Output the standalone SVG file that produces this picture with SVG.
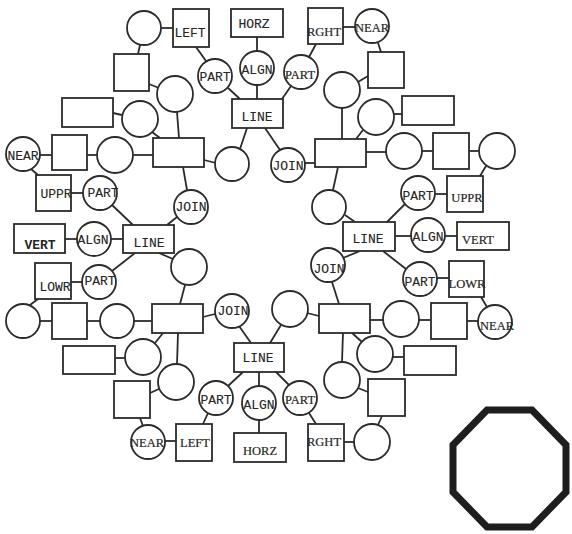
<svg xmlns="http://www.w3.org/2000/svg" width="572" height="534" viewBox="0 0 572 534">
  <style>
    .n { fill: #fff; stroke: #2b2b2b; stroke-width: 1.8; }
    .k line { stroke: #2b2b2b; stroke-width: 1.8; }
    text { fill: #262626; stroke: #262626; stroke-width: 0.12; text-anchor: middle; }
    .t { font-family: "Liberation Mono", "DejaVu Sans Mono", monospace; font-size: 13px; }
    .s { font-family: "Liberation Serif", "DejaVu Serif", serif; font-size: 12.5px; stroke-width: 0.2; }
    .b { font-weight: bold; stroke-width: 0; }
  </style>
  <rect width="572" height="534" fill="#fff"/>

  <!-- connectors -->
  <g id="connectors" class="k">
    <line x1="161" y1="28" x2="173" y2="28"/>
    <line x1="196" y1="47" x2="206" y2="61"/>
    <line x1="257" y1="37" x2="257" y2="51"/>
    <line x1="228" y1="88" x2="240" y2="99"/>
    <line x1="257" y1="85" x2="257" y2="99"/>
    <line x1="291" y1="86" x2="282" y2="99"/>
    <line x1="316" y1="44" x2="309" y2="57"/>
    <line x1="343" y1="27" x2="355" y2="27"/>
    <line x1="247" y1="128" x2="240" y2="149"/>
    <line x1="265" y1="128" x2="280" y2="150"/>
    <line x1="140" y1="45" x2="138" y2="54"/>
    <line x1="149" y1="84" x2="159" y2="88"/>
    <line x1="113" y1="113" x2="122" y2="115"/>
    <line x1="177" y1="112" x2="179" y2="138"/>
    <line x1="152" y1="132" x2="160" y2="138"/>
    <line x1="133" y1="155" x2="153" y2="155"/>
    <line x1="87" y1="155" x2="97" y2="155"/>
    <line x1="40" y1="155" x2="52" y2="155"/>
    <line x1="204" y1="160" x2="216" y2="163"/>
    <line x1="31" y1="169" x2="38" y2="175"/>
    <line x1="183" y1="167" x2="187" y2="190"/>
    <line x1="71" y1="193" x2="83" y2="193"/>
    <line x1="112" y1="205" x2="133" y2="225"/>
    <line x1="177" y1="217" x2="167" y2="225"/>
    <line x1="65" y1="239" x2="77" y2="239"/>
    <line x1="111" y1="239" x2="123" y2="239"/>
    <line x1="135" y1="253" x2="112" y2="271"/>
    <line x1="71" y1="282" x2="82" y2="282"/>
    <line x1="159" y1="253" x2="173" y2="259"/>
    <line x1="185" y1="285" x2="180" y2="304"/>
    <line x1="30" y1="305" x2="38" y2="299"/>
    <line x1="40" y1="321" x2="52" y2="321"/>
    <line x1="87" y1="321" x2="100" y2="321"/>
    <line x1="134" y1="321" x2="152" y2="321"/>
    <line x1="203" y1="317" x2="215" y2="314"/>
    <line x1="163" y1="333" x2="155" y2="343"/>
    <line x1="115" y1="358" x2="125" y2="358"/>
    <line x1="178" y1="333" x2="177" y2="364"/>
    <line x1="159" y1="389" x2="150" y2="393"/>
    <line x1="140" y1="418" x2="143" y2="426"/>
    <line x1="165" y1="441" x2="176" y2="441"/>
    <line x1="208" y1="413" x2="203" y2="424"/>
    <line x1="243" y1="372" x2="228" y2="386"/>
    <line x1="259" y1="372" x2="259" y2="386"/>
    <line x1="276" y1="372" x2="289" y2="385"/>
    <line x1="259" y1="420" x2="259" y2="433"/>
    <line x1="239" y1="326" x2="251" y2="343"/>
    <line x1="281" y1="325" x2="270" y2="343"/>
    <line x1="307" y1="313" x2="319" y2="316"/>
    <line x1="309" y1="413" x2="316" y2="424"/>
    <line x1="344" y1="442" x2="354" y2="442"/>
    <line x1="382" y1="416" x2="378" y2="425"/>
    <line x1="358" y1="388" x2="368" y2="392"/>
    <line x1="343" y1="333" x2="342" y2="362"/>
    <line x1="352" y1="333" x2="362" y2="342"/>
    <line x1="393" y1="357" x2="404" y2="357"/>
    <line x1="370" y1="320" x2="383" y2="320"/>
    <line x1="419" y1="320" x2="431" y2="320"/>
    <line x1="467" y1="321" x2="478" y2="321"/>
    <line x1="481" y1="297" x2="487" y2="307"/>
    <line x1="332" y1="282" x2="339" y2="304"/>
    <line x1="360" y1="251" x2="343" y2="258"/>
    <line x1="383" y1="251" x2="406" y2="269"/>
    <line x1="437" y1="278" x2="449" y2="278"/>
    <line x1="395" y1="236" x2="411" y2="236"/>
    <line x1="445" y1="236" x2="457" y2="236"/>
    <line x1="387" y1="222" x2="405" y2="204"/>
    <line x1="435" y1="194" x2="447" y2="194"/>
    <line x1="486" y1="166" x2="480" y2="176"/>
    <line x1="345" y1="215" x2="355" y2="222"/>
    <line x1="338" y1="167" x2="333" y2="190"/>
    <line x1="305" y1="163" x2="315" y2="163"/>
    <line x1="366" y1="152" x2="386" y2="152"/>
    <line x1="422" y1="151" x2="433" y2="151"/>
    <line x1="469" y1="151" x2="479" y2="151"/>
    <line x1="342" y1="108" x2="342" y2="139"/>
    <line x1="363" y1="130" x2="356" y2="139"/>
    <line x1="394" y1="114" x2="402" y2="114"/>
    <line x1="368" y1="76" x2="358" y2="82"/>
    <line x1="378" y1="43" x2="381" y2="52"/>
  </g>

  <!-- north cluster -->
  <g id="c1"><circle class="n" cx="144" cy="28" r="17"/></g>
  <g id="left-top"><rect class="n" x="173" y="9" width="36" height="38"/><text class="t" x="190" y="37">LEFT</text></g>
  <g id="horz-top"><rect class="n" x="231" y="9" width="52" height="28"/><text class="t" x="254" y="28">HORZ</text></g>
  <g id="algn-top"><circle class="n" cx="257" cy="68" r="17"/><text class="t" x="257" y="74">ALGN</text></g>
  <g id="part-top-left"><circle class="n" cx="215" cy="76" r="17"/><text class="t" x="215" y="81">PART</text></g>
  <g id="line-top"><rect class="n" x="232" y="99" width="51" height="29"/><text class="t" x="257" y="121">LINE</text></g>
  <g id="part-top-right"><circle class="n" cx="301" cy="72" r="17"/><text class="s" x="300" y="79">PART</text></g>
  <g id="rght-top"><rect class="n" x="308" y="8" width="35" height="36"/><text class="s" x="324" y="36">RGHT</text></g>
  <g id="near-top-right"><circle class="n" cx="372" cy="26" r="17"/><text class="s" x="372" y="32">NEAR</text></g>
  <g id="join-top"><circle class="n" cx="288" cy="165" r="17"/><text class="t" x="288" y="170">JOIN</text></g>
  <g id="c-top-mid"><circle class="n" cx="232" cy="164" r="17"/></g>

  <!-- north-west cluster -->
  <g id="sq1"><rect class="n" x="114" y="54" width="35" height="37"/></g>
  <g id="c2"><circle class="n" cx="175" cy="94" r="18"/></g>
  <g id="wr1"><rect class="n" x="62" y="98" width="51" height="29"/></g>
  <g id="c3"><circle class="n" cx="140" cy="119" r="18"/></g>
  <g id="box-nw"><rect class="n" x="153" y="138" width="51" height="29"/></g>
  <g id="c4"><circle class="n" cx="115" cy="155" r="18"/></g>
  <g id="sq2"><rect class="n" x="52" y="135" width="35" height="35"/></g>
  <g id="near-left"><circle class="n" cx="23" cy="154" r="17"/><text class="t" x="23" y="160">NEAR</text></g>

  <!-- west cluster -->
  <g id="uppr-left"><rect class="n" x="36" y="175" width="35" height="36"/><text class="t" x="56" y="198">UPPR</text></g>
  <g id="part-left-upper"><circle class="n" cx="100" cy="193" r="17"/><text class="t" x="103" y="197">PART</text></g>
  <g id="join-left"><circle class="n" cx="191" cy="207" r="17"/><text class="t" x="191" y="211">JOIN</text></g>
  <g id="vert-left"><rect class="n" x="14" y="224" width="51" height="29"/><text class="t b" x="40" y="249">VERT</text></g>
  <g id="algn-left"><circle class="n" cx="94" cy="239" r="17"/><text class="t" x="93" y="244">ALGN</text></g>
  <g id="line-left"><rect class="n" x="123" y="225" width="51" height="28"/><text class="t" x="149" y="247">LINE</text></g>
  <g id="c5"><circle class="n" cx="189" cy="267" r="18"/></g>
  <g id="lowr-left"><rect class="n" x="35" y="263" width="36" height="36"/><text class="t" x="55" y="291">LOWR</text></g>
  <g id="part-left-lower"><circle class="n" cx="99" cy="282" r="17"/><text class="t" x="100" y="285">PART</text></g>

  <!-- south-west cluster -->
  <g id="c6"><circle class="n" cx="23" cy="321" r="17"/></g>
  <g id="sq3"><rect class="n" x="52" y="303" width="35" height="36"/></g>
  <g id="c7"><circle class="n" cx="117" cy="321" r="17"/></g>
  <g id="box-sw"><rect class="n" x="152" y="304" width="51" height="29"/></g>
  <g id="join-bottom"><circle class="n" cx="232" cy="311" r="17"/><text class="t" x="233" y="315">JOIN</text></g>
  <g id="c8"><circle class="n" cx="143" cy="357" r="18"/></g>
  <g id="wr2"><rect class="n" x="63" y="346" width="52" height="28"/></g>
  <g id="c9"><circle class="n" cx="176" cy="382" r="18"/></g>
  <g id="sq4"><rect class="n" x="114" y="381" width="36" height="37"/></g>
  <g id="near-bottom"><circle class="n" cx="148" cy="442" r="17"/><text class="s" x="147" y="447">NEAR</text></g>
  <g id="left-bottom"><rect class="n" x="176" y="424" width="36" height="37"/><text class="s" x="195" y="447">LEFT</text></g>

  <!-- south cluster -->
  <g id="line-bottom"><rect class="n" x="234" y="343" width="50" height="29"/><text class="t" x="258" y="362">LINE</text></g>
  <g id="part-bottom-left"><circle class="n" cx="216" cy="398" r="17"/><text class="t" x="216" y="404">PART</text></g>
  <g id="algn-bottom"><circle class="n" cx="259" cy="403" r="17"/><text class="t" x="259" y="409">ALGN</text></g>
  <g id="horz-bottom"><rect class="n" x="234" y="433" width="52" height="29"/><text class="s" x="260" y="455">HORZ</text></g>
  <g id="part-bottom-right"><circle class="n" cx="300" cy="398" r="17"/><text class="s" x="300" y="404">PART</text></g>
  <g id="c10"><circle class="n" cx="290" cy="309" r="18"/></g>
  <g id="rght-bottom"><rect class="n" x="308" y="424" width="36" height="37"/><text class="s" x="324" y="446">RGHT</text></g>

  <!-- north-east cluster -->
  <g id="sq5"><rect class="n" x="368" y="52" width="36" height="36"/></g>
  <g id="c11"><circle class="n" cx="342" cy="90" r="18"/></g>
  <g id="c12"><circle class="n" cx="376" cy="117" r="18"/></g>
  <g id="wr3"><rect class="n" x="402" y="96" width="52" height="29"/></g>
  <g id="box-ne"><rect class="n" x="315" y="139" width="51" height="28"/></g>
  <g id="c13"><circle class="n" cx="404" cy="151" r="18"/></g>
  <g id="sq6"><rect class="n" x="433" y="133" width="36" height="36"/></g>
  <g id="c14"><circle class="n" cx="497" cy="151" r="18"/></g>

  <!-- east cluster -->
  <g id="c15"><circle class="n" cx="329" cy="207" r="17"/></g>
  <g id="line-right"><rect class="n" x="343" y="222" width="52" height="29"/><text class="t" x="368" y="243">LINE</text></g>
  <g id="part-right-upper"><circle class="n" cx="418" cy="193" r="17"/><text class="t" x="418" y="200">PART</text></g>
  <g id="uppr-right"><rect class="n" x="447" y="176" width="36" height="36"/><text class="s" x="467" y="202">UPPR</text></g>
  <g id="algn-right"><circle class="n" cx="428" cy="235" r="17"/><text class="t" x="428" y="241">ALGN</text></g>
  <g id="vert-right"><rect class="n" x="457" y="222" width="52" height="28"/><text class="s" x="478" y="244">VERT</text></g>
  <g id="join-right"><circle class="n" cx="328" cy="265" r="17"/><text class="t" x="329" y="273">JOIN</text></g>
  <g id="part-right-lower"><circle class="n" cx="420" cy="279" r="17"/><text class="t" x="420" y="286">PART</text></g>
  <g id="lowr-right"><rect class="n" x="449" y="261" width="35" height="36"/><text class="s" x="467" y="288">LOWR</text></g>
  <g id="near-right"><circle class="n" cx="495" cy="322" r="17"/><text class="s" x="497" y="330">NEAR</text></g>

  <!-- south-east cluster -->
  <g id="box-se"><rect class="n" x="319" y="304" width="51" height="29"/></g>
  <g id="c17"><circle class="n" cx="401" cy="319" r="18"/></g>
  <g id="sq7"><rect class="n" x="431" y="303" width="36" height="36"/></g>
  <g id="c18"><circle class="n" cx="375" cy="354" r="18"/></g>
  <g id="wr4"><rect class="n" x="404" y="346" width="52" height="29"/></g>
  <g id="c19"><circle class="n" cx="342" cy="380" r="18"/></g>
  <g id="sq8"><rect class="n" x="368" y="379" width="37" height="37"/></g>
  <g id="c20"><circle class="n" cx="372" cy="442" r="18"/></g>

  <!-- octagon symbol -->
  <polygon points="487,410 532,410 566,445 566,492 532,527 487,527 453,492 453,445" fill="none" stroke="#1e1e1e" stroke-width="7" stroke-linejoin="miter"/>
</svg>
